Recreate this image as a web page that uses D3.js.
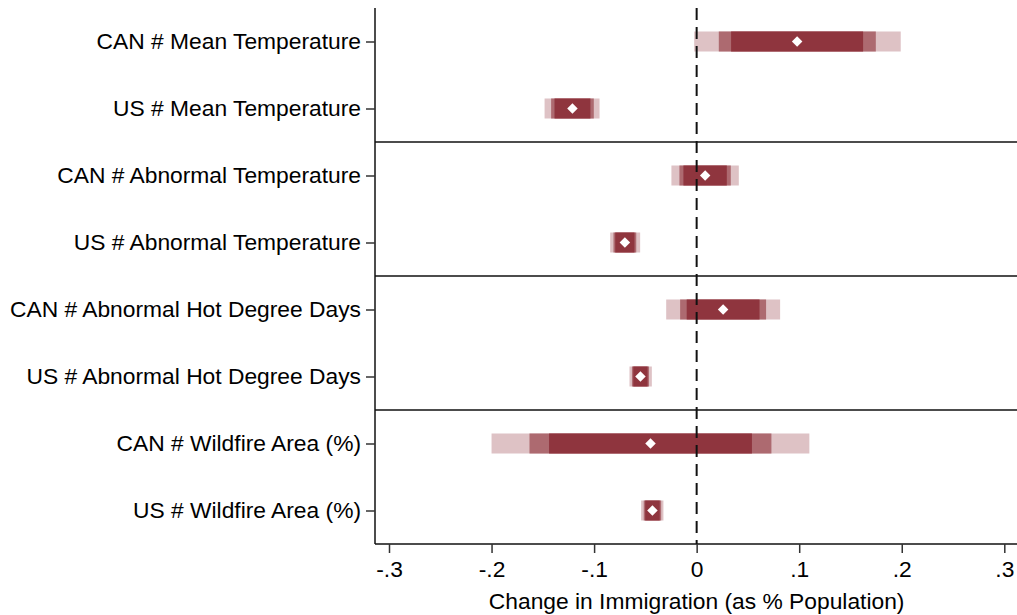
<!DOCTYPE html>
<html>
<head>
<meta charset="utf-8">
<script src="https://cdn.jsdelivr.net/npm/d3@7"></script>
<style>
  html, body { margin: 0; padding: 0; background: #fff; }
  svg { display: block; }
  text { font-family: "Liberation Sans", Arial, Helvetica, sans-serif; fill: #000; }
</style>
</head>
<body>
<svg id="chart" width="1017" height="615"></svg>
<script>
// Coefficient labels, top to bottom
const categories = [
  "CAN # Mean Temperature",
  "US # Mean Temperature",
  "CAN # Abnormal Temperature",
  "US # Abnormal Temperature",
  "CAN # Abnormal Hot Degree Days",
  "US # Abnormal Hot Degree Days",
  "CAN # Wildfire Area (%)",
  "US # Wildfire Area (%)"
];

// Point estimates
const estimates = [0.0980, -0.1211, 0.0083, -0.0700, 0.0258, -0.0548, -0.0450, -0.0431];

// Confidence interval bounds (99%, 95%, 90%)
const ci99Low  = [-0.0024, -0.1483, -0.0246, -0.0843, -0.0297, -0.0655, -0.2000, -0.0541];
const ci99High = [ 0.1990, -0.0947,  0.0411, -0.0551,  0.0814, -0.0437,  0.1099, -0.0324];
const ci95Low  = [ 0.0216, -0.1419, -0.0168, -0.0811, -0.0161, -0.0631, -0.1630, -0.0516];
const ci95High = [ 0.1747, -0.1003,  0.0333, -0.0589,  0.0677, -0.0465,  0.0729, -0.0346];
const ci90Low  = [ 0.0336, -0.1386, -0.0129, -0.0794, -0.0097, -0.0618, -0.1439, -0.0502];
const ci90High = [ 0.1623, -0.1036,  0.0294, -0.0606,  0.0613, -0.0478,  0.0539, -0.0360];

// X axis ticks
const xTicks = [-0.3, -0.2, -0.1, 0, 0.1, 0.2, 0.3];
const xTickLabels = ["-.3", "-.2", "-.1", "0", ".1", ".2", ".3"];
const xTitle = "Change in Immigration (as % Population)";

const rows = categories.map((c, i) => ({
  label: c, est: estimates[i],
  ci: [
    { lo: ci99Low[i], hi: ci99High[i], level: 99 },
    { lo: ci95Low[i], hi: ci95High[i], level: 95 },
    { lo: ci90Low[i], hi: ci90High[i], level: 90 }
  ]
}));

const fill = { 99: "#dec2c5", 95: "#ad6a70", 90: "#8f353e" };
const fontSize = "22.8px";

const plot = { left: 375, right: 1017, top: 8, bottom: 544 };
const svg = d3.select("#chart");

const x = d3.scaleLinear().domain([-0.3, 0.3]).range([389, 1004.3]);
const y = d3.scalePoint().domain(categories).range([plot.top, plot.bottom]).padding(0.5);
const barH = 20;

// Confidence bands
const g = svg.append("g");
rows.forEach(r => {
  g.selectAll(null)
    .data(r.ci)
    .join("rect")
    .attr("x", d => x(d.lo))
    .attr("width", d => x(d.hi) - x(d.lo))
    .attr("y", y(r.label) - barH / 2)
    .attr("height", barH)
    .attr("fill", d => fill[d.level]);
});

// Group separators
const step = y.step();
[1, 3, 5].forEach(i => {
  const yy = y(categories[i]) + step / 2;
  svg.append("line")
    .attr("x1", plot.left).attr("x2", plot.right)
    .attr("y1", yy).attr("y2", yy)
    .attr("stroke", "#111").attr("stroke-width", 1.6);
});

// Zero reference line
svg.append("line")
  .attr("x1", x(0)).attr("x2", x(0))
  .attr("y1", plot.top).attr("y2", plot.bottom)
  .attr("stroke", "#111").attr("stroke-width", 2)
  .attr("stroke-dasharray", "12,7");

// Point estimate markers
svg.append("g").selectAll("path")
  .data(rows)
  .join("path")
  .attr("d", d3.symbol().type(d3.symbolDiamond2).size(70))
  .attr("transform", d => `translate(${x(d.est)},${y(d.label)})`)
  .attr("fill", "#fff");

// Y axis
const yAxis = svg.append("g")
  .attr("transform", `translate(${plot.left},0)`)
  .call(d3.axisLeft(y).tickSize(9).tickPadding(5));
yAxis.select(".domain").attr("d", `M0,${plot.top}V${plot.bottom}`).attr("stroke", "#111").attr("stroke-width", 1.5);
yAxis.selectAll(".tick line").attr("stroke", "#333").attr("stroke-width", 1.5);
yAxis.selectAll(".tick text").attr("font-size", fontSize).attr("font-family", "Liberation Sans, Arial, sans-serif").attr("fill", "#000");

// X axis
const xAxis = svg.append("g")
  .attr("transform", `translate(0,${plot.bottom})`)
  .call(d3.axisBottom(x).tickValues(xTicks).tickFormat((d, i) => xTickLabels[i]).tickSize(9).tickPadding(8));
xAxis.select(".domain").attr("d", `M${plot.left},0H${plot.right}`).attr("stroke", "#111").attr("stroke-width", 1.5);
xAxis.selectAll(".tick line").attr("stroke", "#333").attr("stroke-width", 1.5);
xAxis.selectAll(".tick text").attr("font-size", fontSize).attr("font-family", "Liberation Sans, Arial, sans-serif").attr("fill", "#000");

svg.append("text")
  .attr("x", x(0))
  .attr("y", 609)
  .attr("text-anchor", "middle")
  .attr("font-size", fontSize)
  .text(xTitle);
</script>
</body>
</html>
